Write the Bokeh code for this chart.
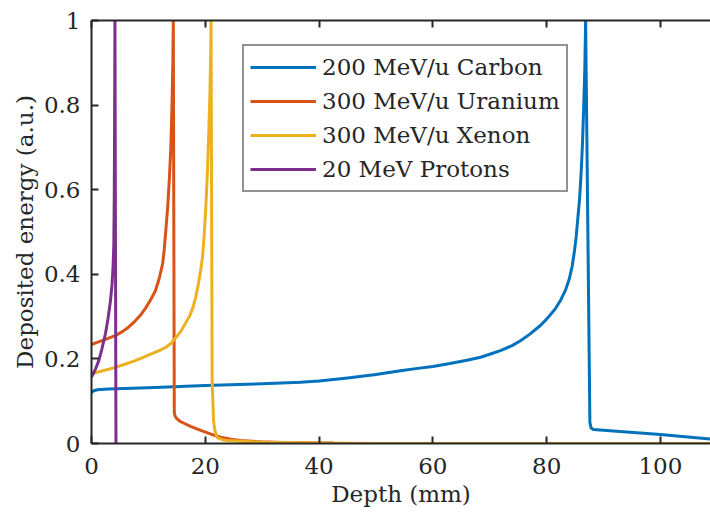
from bokeh.plotting import figure
from bokeh.models import (Range1d, LinearAxis, FixedTicker, CustomJSTickFormatter, Legend,
                          LegendItem, CustomLabelingPolicy)
from bokeh.embed import file_html
from bokeh.resources import INLINE

# ---- data ----
carbon_depth = [0, 0.3, 1, 3, 10, 20, 30, 36.7, 40, 45, 50, 54.3, 57, 60, 63, 66, 68.4, 70, 72,
                74, 75.4, 77, 78.9, 80, 81.5, 82.5, 83.3, 84.0, 84.5, 84.9, 85.2, 85.5, 85.8,
                86.1, 86.3, 86.5, 86.7, 86.85, 87.6, 87.8, 88.2, 100, 110]
carbon_energy = [0.12, 0.124, 0.127, 0.129, 0.132, 0.137, 0.141, 0.145, 0.148, 0.155, 0.163,
                 0.172, 0.177, 0.182, 0.189, 0.197, 0.204, 0.211, 0.22, 0.232, 0.243, 0.258,
                 0.279, 0.294, 0.318, 0.34, 0.362, 0.39, 0.42, 0.456, 0.49, 0.535, 0.58, 0.65,
                 0.71, 0.79, 0.88, 1.0, 0.05, 0.037, 0.033, 0.021, 0.009]

uranium_depth = [0, 1, 2, 3, 4.2, 5.5, 6.5, 7.7, 8.6, 9.5, 10.4, 11.2, 11.9, 12.5, 12.8, 13.1,
                 13.4, 13.7, 13.95, 14.15, 14.3, 14.38, 14.55, 14.65, 14.9, 15.6, 17.5, 19.2, 21,
                 22.7, 24.5, 26.2, 29.7, 35, 42.6]
uranium_energy = [0.234, 0.239, 0.244, 0.249, 0.255, 0.265, 0.275, 0.29, 0.303, 0.32, 0.34, 0.36,
                  0.39, 0.425, 0.46, 0.51, 0.56, 0.63, 0.70, 0.80, 0.90, 1.0, 0.075, 0.066, 0.06,
                  0.052, 0.04, 0.031, 0.022, 0.015, 0.01, 0.007, 0.004, 0.002, 0.001]

xenon_depth = [0, 2, 4.2, 6, 7.7, 9.2, 10.7, 12, 13, 14, 14.8, 15.7, 16.5, 17.2, 17.8, 18.3, 18.8,
               19.2, 19.5, 19.8, 20.1, 20.4, 20.6, 20.8, 20.95, 21.02, 21.2, 21.45, 21.7, 22.1,
               23.0, 23.9, 30, 40, 50, 110]
xenon_energy = [0.165, 0.172, 0.18, 0.188, 0.196, 0.204, 0.213, 0.22, 0.227, 0.237, 0.25, 0.265,
                0.284, 0.30, 0.32, 0.345, 0.378, 0.41, 0.44, 0.49, 0.56, 0.65, 0.73, 0.82, 0.92,
                1.0, 0.15, 0.054, 0.03, 0.014, 0.009, 0.007, 0.003, 0.001, 0.0, 0.0]

proton_depth = [0, 0.3, 0.7, 1.28, 1.8, 2.46, 2.9, 3.34, 3.6, 3.8, 3.92, 4.0, 4.05, 4.09, 4.12, 4.3]
proton_energy = [0.157, 0.165, 0.176, 0.196, 0.222, 0.26, 0.295, 0.338, 0.375, 0.42, 0.47, 0.58,
                 0.72, 0.88, 1.0, 0.0]

series_names = ["200 MeV/u Carbon", "300 MeV/u Uranium", "300 MeV/u Xenon", "20 MeV Protons"]
series_colors = ["#0072BD", "#D95319", "#EDB120", "#7E2F8E"]

x_ticks = [0, 20, 40, 60, 80, 100]
y_ticks = [0, 0.2, 0.4, 0.6, 0.8, 1.0]
x_label = "Depth (mm)"
y_label = "Deposited energy (a.u.)"

FONT = "DejaVu Serif"
FS = "23px"
TXT = "#262626"

p = figure(width=710, height=514, output_backend="svg", toolbar_location=None,
           x_range=Range1d(0, 108.8), y_range=Range1d(0, 1),
           min_border_left=91, min_border_top=20, min_border_bottom=71, min_border_right=0)
p.outline_line_color = None
p.grid.visible = False
p.background_fill_color = "white"
p.border_fill_color = "white"

fmt = CustomJSTickFormatter(code="return String(Math.round(tick*10)/10);")


def style_axis(ax):
    ax.axis_line_color = TXT
    ax.axis_line_width = 2
    ax.major_tick_line_color = TXT
    ax.major_tick_line_width = 2
    ax.major_tick_in = 7
    ax.major_tick_out = 0
    ax.minor_tick_line_color = None
    ax.major_label_text_font = FONT
    ax.major_label_text_color = TXT
    ax.major_label_text_font_size = FS
    ax.axis_label_text_font = FONT
    ax.axis_label_text_color = TXT
    ax.axis_label_text_font_style = "normal"
    ax.axis_label_text_font_size = FS


xa = p.xaxis[0]
ya = p.yaxis[0]
style_axis(xa)
style_axis(ya)
xa.ticker = FixedTicker(ticks=x_ticks)
ya.ticker = FixedTicker(ticks=y_ticks)
ya.formatter = fmt
xa.axis_label = x_label
ya.axis_label = y_label
xa.major_label_standoff = 14
xa.axis_label_standoff = 4
ya.major_label_standoff = 11
ya.axis_label_standoff = 3

# top frame edge with inward ticks, labels hidden
top = LinearAxis(ticker=FixedTicker(ticks=x_ticks))
style_axis(top)
top.major_label_standoff = 0
top.major_label_policy = CustomLabelingPolicy(
    code="const a = [...indices]; for (const i of a) indices.unset(i); return indices;")
p.add_layout(top, "above")

renderers = []
for d, e, c in [(carbon_depth, carbon_energy, series_colors[0]),
                (uranium_depth, uranium_energy, series_colors[1]),
                (xenon_depth, xenon_energy, series_colors[2]),
                (proton_depth, proton_energy, series_colors[3])]:
    r = p.line(d, e, line_color=c, line_width=3, line_join="round")
    renderers.append(r)

legend = Legend(items=[LegendItem(label=n, renderers=[r]) for n, r in zip(series_names, renderers)],
                location=(151, 251))
legend.label_text_font = FONT
legend.label_text_font_size = FS
legend.label_text_color = TXT
legend.border_line_color = TXT
legend.border_line_width = 2
legend.background_fill_alpha = 1
legend.padding = 6
legend.spacing = 4
legend.margin = 0
legend.glyph_width = 66
legend.glyph_height = 30
legend.label_height = 30
legend.label_standoff = 6
p.add_layout(legend, "center")

open("out.html", "w").write(file_html(p, INLINE))
